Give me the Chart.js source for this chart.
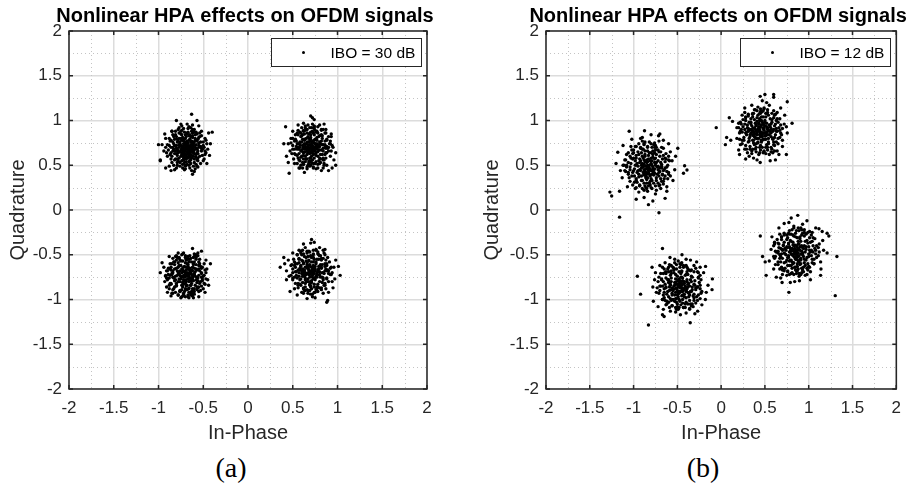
<!DOCTYPE html>
<html>
<head>
<meta charset="utf-8">
<script src="https://cdn.jsdelivr.net/npm/chart.js@4.4.1/dist/chart.umd.min.js"></script>
<style>
body { margin: 0; background: #fff; width: 911px; height: 488px; position: relative; overflow: hidden; }
canvas { position: absolute; top: 0; }
.cap { position: absolute; top: 454px; font: 28px/28px "Liberation Serif", "Times New Roman", serif; color: #000; transform: translateX(-50%); }
</style>
</head>
<body>
<canvas id="plotA" width="455" height="450" style="left:0"></canvas>
<canvas id="plotB" width="455" height="450" style="left:455px"></canvas>
<div class="cap" style="left:231px">(a)</div>
<div class="cap" style="left:703px">(b)</div>
<script>
// axis ticks
var tickLabels = ['-2', '-1.5', '-1', '-0.5', '0', '0.5', '1', '1.5', '2'];
var minorGrid = [-1.75, -1.25, -0.75, -0.25, 0.25, 0.75, 1.25, 1.75];
var plotTitle = 'Nonlinear HPA effects on OFDM signals';

// (a) IBO = 30 dB
var tl30 = [[-.68,.68],[-.65,.70],[-.71,.66],[-.70,.72],[-.64,.65],[-.74,.69],[-.67,.75],[-.62,.71],[-.73,.63],[-.69,.61],[-.60,.67],[-.76,.74],[-.66,.62],[-.63,.77],[-.72,.77],[-.78,.66],[-.58,.73],[-.75,.60],[-.61,.60],[-.70,.80],
  [-.80,.72],[-.57,.64],[-.66,.83],[-.79,.61],[-.55,.70],[-.64,.56],[-.74,.55],[-.83,.68],[-.59,.80],[-.77,.80],[-.53,.76],[-.69,.54],[-.84,.76],[-.56,.58],[-.62,.86],[-.81,.57],[-.75,.85],[-.52,.66],[-.60,.53],[-.86,.64],[-.71,.87],[-.58,.87],[-.79,.50],[-.50,.72],[-.66,.50],[-.88,.72],[-.54,.82],[-.83,.82],[-.73,.51],
  [-.90,.60],[-.48,.62],[-.67,.91],[-.92,.80],[-.47,.78],[-.85,.53],[-.57,.49],[-.78,.90],[-.94,.66],[-.50,.55],[-.62,.95],[-.88,.49],[-.45,.68],[-.70,.46],[-.96,.73],[-.52,.88],[-.82,.45],[-.42,.74],[-.63,.44],[-.98,.56],[-.43,.61],[-.75,.96],[-.92,.47],[-.55,.94],[-.85,.88],[-.46,.52],[-.60,.43],[-.80,1.00],[-.63,1.07],[-.40,.87],[-.44,.86],[-1.0,.73],[-.98,.55],[-.62,.40],[-.86,.44],[-.68,.96],[-.57,1.00],[-.93,.85],[-.48,.66],
  [-.66,.66],[-.72,.70],[-.69,.74],[-.63,.68],[-.67,.58],[-.77,.70],[-.60,.76],[-.74,.78],[-.65,.79],[-.71,.59],[-.79,.76],[-.57,.68],[-.82,.63],[-.61,.64]];
var tl30core = [[-.67,.69],[-.69,.71],[-.66,.64],[-.73,.67],[-.64,.73],[-.70,.63],[-.62,.69],[-.75,.72],[-.68,.77],[-.71,.62],[-.65,.67],[-.78,.64],[-.59,.70],[-.72,.74],[-.66,.71],[-.63,.61],[-.76,.76],[-.69,.57],[-.61,.74],[-.80,.69],[-.56,.66],[-.73,.81],[-.64,.82],[-.77,.58],[-.58,.62],[-.70,.84],[-.82,.72],[-.60,.57],[-.68,.65],[-.74,.64],
  [-.63,.66],[-.71,.68],[-.67,.72],[-.65,.59],[-.79,.79],[-.55,.75],[-.76,.53],[-.62,.81],[-.84,.66],[-.57,.56],[-.72,.57],[-.81,.84],[-.59,.84],[-.86,.70],[-.54,.60],[-.67,.87],[-.78,.55],[-.53,.71],[-.64,.52],[-.74,.89],[-.85,.60],[-.60,.90],[-.70,.50],[-.82,.79],[-.56,.79],[-.66,.54],[-.87,.77],[-.77,.86],[-.51,.68],[-.63,.88]];
var tl30inner = [[-.68,.70],[-.66,.68],[-.70,.66],[-.69,.69],[-.65,.71],[-.71,.73],[-.67,.63],[-.73,.71],[-.63,.70],[-.72,.65],[-.64,.62],[-.75,.67],[-.61,.66],[-.69,.76],[-.66,.78],[-.74,.62],[-.62,.75],[-.77,.73],[-.60,.63],[-.71,.79],[-.68,.59],[-.79,.68],[-.58,.69],[-.65,.84],[-.75,.80],
  [-.63,.58],[-.80,.63],[-.57,.77],[-.72,.56],[-.69,.82],[-.67,.66],[-.70,.75],[-.64,.76],[-.73,.60],[-.61,.72],[-.76,.65],[-.66,.60],[-.78,.77],[-.59,.78],[-.71,.53],[-.62,.83],[-.81,.66],[-.56,.63],[-.74,.84],[-.65,.55],[-.83,.74],[-.55,.72],[-.68,.85],[-.79,.57],[-.58,.59]];
var tl30ring = [[-.84,.70],[-.52,.69],[-.68,.86],[-.68,.51],[-.80,.82],[-.56,.55],[-.82,.56],[-.55,.81],[-.75,.88],[-.61,.49],[-.87,.62],[-.50,.76],[-.60,.87],[-.76,.49],[-.86,.78],[-.51,.61],[-.72,.91],[-.65,.47],[-.89,.67],[-.49,.70],[-.79,.53],[-.57,.85],[-.84,.84],[-.53,.52],[-.64,.92],
  [-.73,.47],[-.90,.73],[-.47,.64],[-.58,.51],[-.81,.88],[-.70,.49],[-.86,.57],[-.54,.86],[-.62,.90],[-.88,.80],[-.49,.57],[-.77,.92],[-.59,.46],[-.91,.64],[-.46,.74],[-.83,.50],[-.66,.93],[-.52,.83],[-.71,.45],[-.85,.88],[-.48,.80],[-.92,.70],[-.56,.48],[-.74,.94],[-.80,.47]];
var tr30 = [[.70,.70],[.67,.73],[.73,.68],[.69,.65],[.75,.74],[.64,.68],[.72,.77],[.66,.62],[.78,.70],[.61,.72],[.71,.60],[.76,.64],[.63,.78],[.80,.76],[.68,.80],[.74,.58],[.59,.66],[.82,.67],[.65,.57],[.77,.81],
  [.57,.74],[.84,.73],[.70,.84],[.60,.60],[.80,.58],[.55,.68],[.86,.62],[.63,.85],[.76,.87],[.68,.54],[.53,.79],[.88,.78],[.58,.55],[.82,.84],[.73,.52],[.52,.63],[.62,.51],[.89,.69],[.66,.90],[.80,.52],[.55,.86],[.85,.56],[.50,.72],[.74,.91],[.59,.82],[.91,.74],[.70,.50],[.56,.58],
  [.48,.80],[.92,.60],[.60,.92],[.84,.90],[.47,.66],[.93,.82],[.52,.52],[.88,.50],[.45,.74],[.78,.47],[.66,.46],[.95,.70],[.50,.88],[.70,1.05],[.72,1.03],[.74,1.01],[.42,.93],[.85,.96],[.93,.85],[.98,.64],[.98,.50],[.94,.47],[.46,.41],[.63,.42],[.58,.47],[.40,.74],[.43,.60],[.80,.95],[.56,.95],[.96,.56],[.45,.53],[.62,.97],[.90,.44],[.82,.44],
  [.72,.72],[.68,.67],[.66,.76],[.75,.66],[.62,.64],[.79,.73],[.71,.64],[.64,.71],[.77,.78],[.69,.58],[.58,.70],[.83,.62],[.74,.84],[.61,.79]];
var tr30core = [[.71,.71],[.69,.73],[.74,.70],[.66,.69],[.72,.66],[.68,.76],[.76,.72],[.63,.74],[.73,.63],[.67,.64],[.79,.67],[.65,.80],[.75,.79],[.61,.68],[.70,.58],[.81,.74],[.62,.61],[.78,.60],[.66,.86],[.84,.69],[.58,.76],[.73,.86],[.69,.55],[.86,.77],[.57,.63],[.80,.83],[.64,.54],[.87,.64],[.60,.83],[.76,.54],
  [.71,.67],[.67,.70],[.74,.75],[.64,.65],[.77,.68],[.70,.79],[.62,.71],[.81,.62],[.59,.59],[.83,.80],[.56,.70],[.75,.89],[.67,.50],[.88,.71],[.54,.77],[.79,.55],[.62,.88],[.90,.66],[.55,.61],[.71,.92],[.84,.58],[.58,.87],[.73,.48],[.87,.86],[.52,.68],[.61,.53],[.82,.90],[.92,.77],[.64,.94],[.85,.52]];
var tr30inner = [[.70,.72],[.72,.70],[.68,.68],[.71,.75],[.73,.66],[.67,.71],[.75,.69],[.69,.63],[.65,.74],[.77,.74],[.66,.66],[.74,.78],[.62,.70],[.78,.65],[.70,.81],[.64,.60],[.80,.71],[.63,.79],[.76,.61],[.68,.85],[.60,.66],[.82,.77],[.72,.56],[.58,.73],[.79,.82],
  [.66,.57],[.84,.66],[.61,.84],[.75,.52],[.86,.73],[.71,.69],[.69,.77],[.73,.62],[.65,.69],[.77,.71],[.67,.82],[.63,.65],[.80,.67],[.72,.88],[.60,.76],[.83,.73],[.68,.52],[.57,.68],[.78,.86],[.62,.57],[.87,.69],[.64,.89],[.81,.57],[.55,.74],[.74,.93]];
var tr30ring = [[.86,.70],[.54,.71],[.70,.87],[.71,.53],[.83,.83],[.57,.56],[.84,.56],[.56,.84],[.77,.88],[.62,.51],[.88,.64],[.52,.77],[.62,.89],[.78,.51],[.88,.79],[.53,.62],[.69,.92],[.66,.48],[.90,.70],[.50,.68],[.81,.53],[.59,.86],[.86,.86],[.55,.52],[.74,.94],
  [.73,.47],[.92,.74],[.49,.63],[.59,.50],[.82,.89],[.69,.49],[.87,.58],[.56,.89],[.64,.92],[.90,.82],[.51,.57],[.78,.93],[.61,.47],[.93,.66],[.48,.75],[.85,.50],[.67,.95],[.53,.84],[.76,.46],[.87,.90],[.50,.80],[.94,.72],[.57,.47],[.72,.96],[.84,.47]];
var bl30 = [[-.68,-.72],[-.65,-.70],[-.71,-.75],[-.69,-.67],[-.63,-.76],[-.74,-.70],[-.66,-.80],[-.72,-.64],[-.60,-.71],[-.77,-.77],[-.70,-.82],[-.62,-.64],[-.79,-.68],[-.58,-.78],[-.75,-.62],[-.64,-.84],[-.81,-.74],[-.57,-.67],[-.68,-.60],[-.73,-.86],
  [-.84,-.70],[-.55,-.73],[-.69,-.89],[-.60,-.58],[-.80,-.82],[-.53,-.80],[-.76,-.56],[-.86,-.64],[-.63,-.91],[-.52,-.65],[-.83,-.88],[-.65,-.55],[-.88,-.76],[-.56,-.87],[-.72,-.93],[-.50,-.74],[-.82,-.58],[-.58,-.55],[-.90,-.68],[-.76,-.90],[-.54,-.60],[-.87,-.82],[-.70,-.53],[-.60,-.94],[-.49,-.82],[-.85,-.60],[-.78,-.95],[-.67,-.52],
  [-.47,-.70],[-.92,-.73],[-.62,-.43],[-.78,-.48],[-.88,-.52],[-.96,-.59],[-.90,-.92],[-.98,-.70],[-.48,-.92],[-.42,-.60],[-.52,-.46],[-.55,-.97],[-.66,-.98],[-.45,-.78],[-.93,-.80],[-.73,-.49],[-.58,-.50],[-.84,-.93],[-.46,-.66],[-.70,-.97],[-.94,-.64],[-.50,-.88],[-.81,-.52],[-.44,-.84],[-.61,-.98],[-.91,-.86],[-.86,-.96],[-.56,-.48],[-.75,-.98],[-.47,-.56],
  [-.66,-.74],[-.70,-.70],[-.67,-.66],[-.72,-.78],[-.62,-.68],[-.76,-.73],[-.64,-.79],[-.74,-.66],[-.59,-.74],[-.69,-.85],[-.78,-.80],[-.61,-.61],[-.82,-.66],[-.66,-.88]];
var bl30core = [[-.67,-.71],[-.70,-.74],[-.65,-.76],[-.72,-.69],[-.63,-.72],[-.69,-.78],[-.74,-.75],[-.66,-.66],[-.61,-.79],[-.76,-.68],[-.71,-.63],[-.64,-.84],[-.79,-.73],[-.59,-.69],[-.73,-.81],[-.67,-.61],[-.81,-.78],[-.57,-.75],[-.77,-.62],[-.62,-.88],[-.84,-.68],[-.55,-.66],[-.70,-.88],[-.63,-.58],[-.80,-.85],[-.54,-.82],[-.75,-.57],[-.87,-.73],[-.66,-.92],[-.58,-.61],
  [-.68,-.70],[-.72,-.73],[-.65,-.68],[-.71,-.79],[-.62,-.75],[-.77,-.71],[-.60,-.65],[-.74,-.84],[-.69,-.64],[-.83,-.76],[-.56,-.79],[-.78,-.59],[-.61,-.91],[-.86,-.83],[-.52,-.70],[-.69,-.56],[-.76,-.91],[-.57,-.86],[-.89,-.65],[-.64,-.54],[-.82,-.61],[-.51,-.77],[-.72,-.96],[-.60,-.52],[-.88,-.88],[-.53,-.63],[-.79,-.53],[-.67,-.95],[-.91,-.76],[-.55,-.91]];
var bl30inner = [[-.68,-.74],[-.66,-.72],[-.70,-.70],[-.67,-.77],[-.71,-.73],[-.64,-.70],[-.69,-.80],[-.73,-.67],[-.65,-.65],[-.62,-.77],[-.75,-.74],[-.67,-.63],[-.72,-.83],[-.60,-.72],[-.78,-.70],[-.63,-.82],[-.70,-.59],[-.76,-.80],[-.58,-.66],[-.66,-.87],[-.80,-.65],[-.61,-.60],[-.74,-.89],[-.56,-.76],[-.82,-.79],
  [-.69,-.55],[-.59,-.84],[-.85,-.71],[-.64,-.93],[-.54,-.68],[-.69,-.73],[-.65,-.79],[-.72,-.68],[-.63,-.67],[-.75,-.77],[-.68,-.84],[-.61,-.73],[-.78,-.64],[-.66,-.58],[-.57,-.81],[-.80,-.84],[-.73,-.57],[-.60,-.88],[-.84,-.75],[-.55,-.62],[-.71,-.91],[-.86,-.67],[-.52,-.75],[-.77,-.54],[-.62,-.96]];
var bl30ring = [[-.85,-.72],[-.52,-.71],[-.68,-.89],[-.67,-.55],[-.82,-.86],[-.55,-.58],[-.83,-.58],[-.55,-.86],[-.76,-.91],[-.61,-.53],[-.87,-.66],[-.51,-.79],[-.60,-.91],[-.77,-.53],[-.86,-.82],[-.51,-.64],[-.72,-.94],[-.65,-.51],[-.89,-.72],[-.49,-.73],[-.80,-.56],[-.57,-.89],[-.84,-.89],[-.54,-.55],[-.64,-.95],
  [-.74,-.50],[-.90,-.78],[-.48,-.67],[-.58,-.53],[-.81,-.92],[-.70,-.51],[-.87,-.60],[-.53,-.90],[-.62,-.94],[-.88,-.84],[-.49,-.60],[-.78,-.95],[-.60,-.49],[-.91,-.68],[-.47,-.77],[-.84,-.54],[-.67,-.97],[-.52,-.85],[-.72,-.48],[-.85,-.93],[-.48,-.83],[-.92,-.74],[-.56,-.51],[-.74,-.97],[-.80,-.51]];
var br30 = [[.70,-.68],[.67,-.65],[.73,-.71],[.69,-.62],[.75,-.66],[.64,-.70],[.72,-.75],[.66,-.59],[.78,-.69],[.61,-.66],[.71,-.79],[.76,-.60],[.63,-.74],[.80,-.73],[.68,-.56],[.74,-.83],[.59,-.62],[.82,-.64],[.65,-.80],[.77,-.55],
  [.57,-.70],[.84,-.70],[.70,-.86],[.60,-.56],[.80,-.80],[.55,-.76],[.86,-.60],[.63,-.52],[.76,-.89],[.67,-.90],[.53,-.64],[.88,-.76],[.58,-.83],[.82,-.54],[.73,-.49],[.52,-.58],[.62,-.88],[.89,-.67],[.66,-.48],[.80,-.87],[.55,-.50],[.85,-.84],[.50,-.70],[.78,-.47],[.60,-.92],[.91,-.58],[.70,-.94],[.48,-.62],
  [.46,-.74],[.93,-.72],[.59,-.46],[.86,-.50],[.45,-.56],[.94,-.80],[.52,-.88],[.84,-.93],[.43,-.68],[.64,-.42],[.96,-.64],[.55,-.95],[.71,-.33],[.70,-.37],[.74,-.36],[.36,-.64],[.40,-.53],[.43,-.78],[1.03,-.73],[1.01,-.63],[.88,-1.03],[.89,-1.01],[.75,-.98],[.90,-.92],[.47,-.91],[.80,-.42],[.98,-.56],[.50,-.48],[.66,-.99],[.95,-.87],[.62,-.38],[.41,-.60],[.97,-.77],[.86,-.44],
  [.72,-.66],[.68,-.72],[.66,-.63],[.75,-.76],[.62,-.69],[.79,-.63],[.71,-.58],[.64,-.78],[.77,-.72],[.69,-.83],[.58,-.67],[.83,-.75],[.73,-.53],[.61,-.57]];
var br30core = [[.71,-.69],[.68,-.67],[.74,-.65],[.66,-.71],[.72,-.73],[.69,-.61],[.77,-.70],[.64,-.64],[.75,-.78],[.62,-.72],[.79,-.66],[.67,-.77],[.73,-.58],[.60,-.68],[.81,-.75],[.65,-.57],[.78,-.83],[.58,-.65],[.83,-.61],[.69,-.84],[.62,-.60],[.85,-.71],[.71,-.53],[.57,-.74],[.77,-.88],[.61,-.81],[.87,-.66],[.67,-.52],[.82,-.56],[.55,-.60],
  [.70,-.71],[.73,-.68],[.68,-.63],[.76,-.74],[.63,-.67],[.80,-.69],[.66,-.80],[.74,-.55],[.59,-.77],[.84,-.78],[.71,-.88],[.57,-.55],[.88,-.60],[.64,-.86],[.79,-.50],[.53,-.69],[.90,-.71],[.75,-.92],[.60,-.50],[.86,-.82],[.52,-.62],[.68,-.46],[.82,-.89],[.56,-.84],[.92,-.65],[.76,-.45],[.62,-.93],[.89,-.53],[.50,-.76],[.72,-.97]];
var br30inner = [[.70,-.70],[.72,-.67],[.68,-.69],[.71,-.64],[.74,-.71],[.67,-.66],[.69,-.75],[.75,-.63],[.65,-.72],[.73,-.77],[.66,-.61],[.78,-.67],[.63,-.68],[.71,-.81],[.76,-.58],[.61,-.74],[.80,-.72],[.68,-.57],[.64,-.82],[.82,-.65],[.59,-.63],[.74,-.86],[.70,-.52],[.84,-.76],[.58,-.78],
  [.79,-.55],[.66,-.89],[.86,-.63],[.56,-.67],[.73,-.50],[.71,-.69],[.69,-.72],[.73,-.62],[.66,-.64],[.77,-.75],[.64,-.76],[.75,-.68],[.68,-.80],[.62,-.59],[.81,-.61],[.70,-.85],[.60,-.71],[.83,-.70],[.65,-.53],[.78,-.86],[.57,-.59],[.88,-.68],[.63,-.90],[.80,-.51],[.54,-.73]];
var br30ring = [[.86,-.68],[.54,-.69],[.70,-.85],[.70,-.51],[.83,-.81],[.57,-.54],[.84,-.54],[.56,-.82],[.77,-.86],[.62,-.49],[.88,-.62],[.52,-.75],[.62,-.87],[.78,-.49],[.88,-.77],[.53,-.60],[.69,-.90],[.66,-.46],[.90,-.68],[.50,-.66],[.81,-.51],[.59,-.84],[.86,-.84],[.55,-.50],[.74,-.92],
  [.73,-.45],[.92,-.72],[.49,-.61],[.59,-.48],[.82,-.87],[.69,-.47],[.87,-.56],[.56,-.87],[.64,-.90],[.90,-.80],[.51,-.55],[.78,-.91],[.61,-.45],[.93,-.64],[.48,-.73],[.85,-.48],[.67,-.93],[.53,-.82],[.76,-.44],[.87,-.88],[.50,-.78],[.94,-.70],[.57,-.45],[.72,-.94],[.84,-.45]];

// (b) IBO = 12 dB, rotated and spread
var tl12 = [[-.84,.48],[-.80,.51],[-.88,.45],[-.83,.42],[-.78,.46],[-.90,.52],[-.85,.56],[-.76,.53],[-.92,.44],[-.81,.38],[-.73,.48],[-.95,.49],[-.87,.60],[-.78,.59],[-.86,.36],[-.71,.42],[-.98,.55],[-.74,.36],[-.91,.38],[-.82,.64],
  [-1.00,.44],[-.68,.51],[-.94,.62],[-.70,.60],[-.88,.30],[-.77,.30],[-1.03,.52],[-.66,.44],[-.90,.68],[-.75,.67],[-.97,.35],[-.65,.35],[-1.06,.40],[-.84,.71],[-.70,.28],[-1.01,.63],[-.62,.48],[-.80,.25],[-.93,.27],[-1.08,.48],[-.63,.57],[-.97,.71],[-.68,.70],[-1.04,.32],[-.60,.40],[-.87,.76],[-.76,.75],[-.85,.24],[-1.10,.56],
  [-1.05,.88],[-.875,.886],[-.715,.83],[-.495,.69],[-.417,.495],[-.39,.447],[-.43,.41],[-1.27,.20],[-1.25,.156],[-1.16,.21],[-1.16,-.08],[-.71,-.03],[-.83,.06],[-1.18,.645],[-.62,.21],[-.62,.26],[-.58,.65],[-1.12,.72],[-.55,.33],[-1.13,.36],[-.92,.80],[-.66,.78],[-.75,.18],[-.94,.20],[-1.07,.26],[-.56,.55],[-.80,.84],[-1.15,.44],[-.53,.45],[-.88,.14],[-.64,.13],[-1.02,.79],[-.70,.85],[-.97,.12],[-.60,.74],[-.78,.10],[-.52,.60],[-1.20,.52],
  [-.82,.50],[-.86,.42],[-.80,.44],[-.89,.49],[-.79,.55],[-.84,.54],[-.76,.41],[-.93,.57],[-.72,.55],[-.88,.39],[-.96,.42],[-.81,.32],[-.70,.47],[-1.00,.58],[-.74,.62],[-.91,.64],[-.67,.39],[-.99,.38],[-.78,.66],[-.85,.30]];
var tl12core = [[-.83,.49],[-.86,.46],[-.81,.45],[-.88,.51],[-.79,.50],[-.85,.40],[-.91,.47],[-.77,.44],[-.83,.57],[-.89,.42],[-.75,.50],[-.93,.53],[-.80,.35],[-.87,.62],[-.72,.45],[-.95,.44],[-.78,.62],[-.90,.33],[-.69,.53],[-.98,.50],[-.84,.66],[-.74,.33],[-1.01,.57],[-.67,.40],[-.92,.70],[-.81,.28],[-.71,.65],[-1.04,.45],[-.96,.31],[-.64,.54],
  [-.82,.45],[-.87,.54],[-.79,.40],[-.94,.40],[-.76,.57],[-.89,.58],[-.73,.40],[-.97,.61],[-.85,.34],[-.68,.47],[-1.02,.38],[-.79,.70],[-.93,.28],[-.66,.61],[-1.06,.53],[-.88,.74],[-.72,.30],[-1.00,.67],[-.62,.43],[-.84,.21],[-1.09,.43],[-.75,.72],[-.98,.24],[-.60,.56],[-.90,.81],[-1.08,.62],[-.66,.32],[-.71,.77],[-1.12,.50],[-.58,.38]];
var tl12inner = [[-.84,.50],[-.82,.47],[-.86,.49],[-.83,.44],[-.87,.43],[-.80,.52],[-.85,.53],[-.89,.48],[-.78,.48],[-.82,.40],[-.88,.56],[-.76,.46],[-.91,.50],[-.80,.58],[-.86,.38],[-.74,.53],[-.93,.45],[-.83,.61],[-.77,.39],[-.90,.60],[-.72,.49],[-.96,.52],[-.79,.33],[-.87,.66],[-.70,.43],
  [-.94,.37],[-.76,.64],[-.99,.46],[-.82,.30],[-.67,.57],[-.85,.46],[-.81,.55],[-.88,.40],[-.78,.43],[-.92,.55],[-.75,.58],[-.84,.36],[-.97,.58],[-.71,.38],[-.89,.68],[-.80,.64],[-1.01,.42],[-.68,.49],[-.91,.33],[-.74,.70],[-1.03,.58],[-.65,.45],[-.87,.27],[-.95,.65],[-.69,.35]];
var tl12ring = [[-1.04,.48],[-.64,.47],[-.84,.70],[-.83,.27],[-1.00,.64],[-.68,.32],[-.99,.31],[-.69,.65],[-.92,.69],[-.75,.27],[-1.06,.42],[-.64,.58],[-.76,.70],[-.93,.27],[-1.04,.60],[-.64,.38],[-.88,.73],[-.79,.24],[-1.08,.50],[-.61,.50],[-.97,.33],[-.72,.67],[-1.02,.67],[-.66,.29],[-.80,.74],
  [-.90,.24],[-1.09,.56],[-.60,.42],[-.71,.27],[-.98,.71],[-.86,.25],[-1.05,.36],[-.66,.69],[-.77,.73],[-1.06,.64],[-.61,.35],[-.94,.74],[-.74,.22],[-1.10,.44],[-.59,.55],[-1.01,.28],[-.82,.76],[-.63,.63],[-.88,.22],[-1.03,.71],[-.60,.60],[-1.11,.50],[-.69,.24],[-.90,.77],[-.97,.25]];
var tr12 = [[.44,.88],[.48,.91],[.40,.85],[.45,.82],[.50,.86],[.38,.92],[.43,.96],[.52,.93],[.36,.84],[.47,.78],[.55,.88],[.33,.90],[.41,.99],[.50,1.00],[.42,.76],[.57,.82],[.30,.95],[.54,.76],[.37,.78],[.46,1.04],
  [.28,.86],[.60,.90],[.34,1.02],[.58,.98],[.40,.70],[.51,.70],[.25,.93],[.62,.84],[.37,1.08],[.54,1.06],[.31,.76],[.63,.76],[.26,.81],[.45,1.10],[.58,.68],[.28,1.00],[.66,.92],[.48,.64],[.35,.66],[.22,.88],[.64,1.02],[.31,1.07],[.60,1.11],[.24,.74],[.68,.86],[.42,1.15],[.55,.62],[.29,.68],[.20,.97],
  [-.056,.92],[.093,1.03],[.13,.99],[.063,.81],[.048,.73],[.11,.78],[.50,1.29],[.60,1.29],[.60,1.26],[.446,1.27],[.755,1.21],[.726,1.06],[.81,.97],[.745,.93],[.755,.86],[.70,.71],[.745,.62],[.446,.53],[.28,.57],[.20,.67],[.21,.62],[.66,.62],[.37,.58],[.52,1.20],[.35,1.17],[.70,.78],[.24,1.06],[.62,.56],[.18,.80],[.68,1.14],[.41,.56],[.56,.55],[.32,.60],[.27,1.14],[.72,.96],[.18,.92],[.64,.66],[.55,1.17],[.47,1.22],
  [.42,.90],[.46,.85],[.39,.81],[.49,.95],[.43,.80],[.53,.84],[.36,.88],[.47,.98],[.40,.94],[.56,.93],[.33,.82],[.51,.79],[.44,1.02],[.59,.79],[.32,.98],[.38,.73],[.62,.96],[.45,.72],[.27,.90],[.51,1.04]];
var tr12core = [[.45,.87],[.42,.90],[.47,.84],[.40,.88],[.49,.89],[.43,.93],[.38,.85],[.51,.83],[.46,.95],[.36,.91],[.53,.90],[.41,.80],[.48,.79],[.34,.86],[.55,.95],[.39,.97],[.50,.98],[.32,.80],[.57,.86],[.44,1.00],[.37,.75],[.59,.80],[.30,.92],[.52,.73],[.42,1.06],[.61,.94],[.29,.84],[.47,.70],[.56,1.02],[.34,.96],
  [.44,.84],[.48,.92],[.41,.86],[.52,.87],[.38,.82],[.46,.78],[.54,.80],[.35,.89],[.50,.94],[.40,.74],[.57,.91],[.31,.88],[.45,1.08],[.60,.73],[.27,.96],[.53,1.09],[.36,1.04],[.63,.88],[.26,.78],[.49,.66],[.39,1.12],[.65,.98],[.23,.90],[.57,.65],[.33,.71],[.61,1.06],[.28,1.03],[.43,.62],[.67,.81],[.49,1.13]];
var tr12inner = [[.44,.90],[.46,.87],[.42,.88],[.45,.93],[.47,.82],[.41,.84],[.49,.91],[.43,.97],[.39,.90],[.51,.86],[.48,.96],[.37,.87],[.53,.92],[.40,.80],[.46,1.00],[.50,.79],[.35,.94],[.55,.84],[.42,.75],[.48,1.04],[.33,.84],[.57,.96],[.38,1.01],[.54,.74],[.44,.70],
  [.59,.88],[.31,.91],[.51,1.08],[.36,.78],[.61,.81],[.45,.85],[.43,.92],[.48,.86],[.40,.95],[.50,.83],[.37,.83],[.52,.97],[.46,.76],[.41,1.03],[.56,.89],[.34,.98],[.53,.70],[.58,1.01],[.32,.77],[.63,.91],[.47,1.10],[.39,.68],[.29,.87],[.60,.76],[.36,1.07]];
var tr12ring = [[.64,.88],[.24,.87],[.44,1.08],[.45,.67],[.60,1.03],[.28,.72],[.61,.72],[.28,1.04],[.52,1.08],[.36,.68],[.65,.80],[.23,.96],[.36,1.08],[.53,.67],[.63,1.00],[.24,.78],[.41,1.11],[.49,.65],[.67,.89],[.21,.86],[.57,.70],[.31,1.05],[.62,1.07],[.27,.68],[.48,1.11],
  [.40,.65],[.68,.95],[.21,.79],[.33,.68],[.58,1.08],[.44,.64],[.65,.74],[.27,1.09],[.38,1.12],[.67,1.02],[.22,.73],[.53,1.12],[.35,.63],[.69,.84],[.20,.92],[.61,.66],[.45,1.13],[.25,1.01],[.51,.63],[.64,1.09],[.22,.98],[.70,.91],[.30,.64],[.49,1.14],[.59,.64]];
var br12 = [[.85,-.47],[.89,-.44],[.81,-.50],[.86,-.53],[.91,-.49],[.79,-.43],[.84,-.39],[.93,-.42],[.77,-.51],[.88,-.57],[.96,-.47],[.74,-.45],[.82,-.36],[.91,-.35],[.83,-.59],[.98,-.53],[.71,-.40],[.95,-.59],[.78,-.57],[.87,-.31],
  [.69,-.49],[1.01,-.45],[.75,-.33],[.99,-.37],[.81,-.65],[.92,-.65],[.66,-.42],[1.03,-.51],[.78,-.27],[.95,-.29],[.72,-.59],[1.04,-.59],[.67,-.54],[.86,-.23],[.99,-.67],[.69,-.33],[1.07,-.43],[.89,-.71],[.76,-.69],[.63,-.47],[1.05,-.31],[.72,-.26],[1.01,-.24],[.65,-.61],[1.09,-.53],[.83,-.18],[.96,-.73],[.70,-.67],[.61,-.38],
  [.875,-.06],[.80,-.09],[.774,-.14],[.447,-.29],[1.117,-.21],[1.154,-.24],[1.21,-.26],[1.23,-.29],[1.322,-.52],[1.303,-.957],[.774,-.92],[.696,-.81],[.79,-.81],[.894,-.79],[.473,-.52],[.503,-.58],[.514,-.73],[1.136,-.73],[1.136,-.58],[1.21,-.48],[.58,-.30],[1.12,-.38],[.60,-.66],[.93,-.16],[1.14,-.66],[.57,-.44],[.66,-.20],[1.02,-.78],[.63,-.75],[1.17,-.45],[.72,-.15],[.55,-.57],[1.08,-.20],[.84,-.80],[1.16,-.34],[.60,-.52],[.98,-.12],[.68,-.76],
  [.83,-.49],[.87,-.42],[.86,-.50],[.80,-.46],[.90,-.55],[.84,-.44],[.93,-.50],[.77,-.38],[.88,-.38],[.80,-.56],[.95,-.40],[.74,-.50],[.90,-.61],[.83,-.29],[.97,-.56],[.70,-.45],[.85,-.64],[1.00,-.41],[.76,-.62],[.92,-.28]];
var br12core = [[.84,-.48],[.87,-.45],[.82,-.44],[.89,-.51],[.80,-.49],[.86,-.40],[.92,-.46],[.78,-.47],[.85,-.55],[.90,-.41],[.76,-.42],[.94,-.52],[.81,-.58],[.88,-.35],[.73,-.49],[.97,-.44],[.79,-.34],[.91,-.60],[.70,-.44],[1.00,-.49],[.84,-.64],[.75,-.56],[.98,-.34],[.68,-.52],[.93,-.67],[.80,-.27],[.72,-.36],[1.04,-.55],[.96,-.62],[.65,-.46],
  [.85,-.45],[.83,-.52],[.88,-.48],[.78,-.41],[.91,-.54],[.82,-.39],[.94,-.43],[.76,-.53],[.87,-.60],[.73,-.43],[1.02,-.47],[.80,-.62],[.90,-.30],[.68,-.58],[1.05,-.40],[.87,-.68],[.75,-.28],[1.01,-.64],[.66,-.38],[.92,-.22],[1.08,-.49],[.71,-.66],[.97,-.27],[.62,-.52],[.83,-.72],[1.06,-.60],[.69,-.30],[.78,-.72],[1.11,-.42],[.88,-.20]];
var br12inner = [[.85,-.49],[.83,-.46],[.87,-.48],[.84,-.43],[.88,-.52],[.81,-.50],[.86,-.55],[.90,-.45],[.79,-.46],[.83,-.40],[.91,-.56],[.77,-.53],[.89,-.38],[.82,-.60],[.93,-.48],[.75,-.41],[.87,-.63],[.80,-.35],[.95,-.55],[.72,-.48],[.90,-.32],[.78,-.62],[.97,-.41],[.85,-.67],[.70,-.54],
  [.94,-.64],[.76,-.31],[1.00,-.52],[.82,-.28],[.68,-.43],[.86,-.46],[.84,-.53],[.81,-.43],[.89,-.58],[.79,-.56],[.92,-.40],[.77,-.37],[.88,-.66],[.74,-.58],[.96,-.35],[.85,-.30],[.99,-.60],[.71,-.39],[.92,-.70],[.81,-.70],[1.03,-.45],[.67,-.50],[.95,-.25],[.73,-.65],[1.02,-.36]];
var br12ring = [[1.05,-.47],[.65,-.48],[.85,-.26],[.86,-.68],[1.01,-.31],[.69,-.64],[1.00,-.63],[.69,-.30],[.93,-.26],[.76,-.68],[1.06,-.55],[.65,-.37],[.77,-.26],[.94,-.69],[1.04,-.35],[.65,-.58],[.89,-.23],[.80,-.71],[1.08,-.45],[.62,-.46],[.98,-.65],[.72,-.28],[1.03,-.28],[.67,-.66],[.81,-.22],
  [.91,-.72],[1.09,-.40],[.61,-.54],[.72,-.68],[.99,-.25],[.86,-.71],[1.06,-.60],[.67,-.27],[.78,-.23],[1.07,-.32],[.62,-.61],[.95,-.22],[.75,-.73],[1.11,-.51],[.60,-.40],[1.02,-.69],[.83,-.20],[.64,-.33],[.89,-.74],[1.04,-.25],[.61,-.36],[1.12,-.47],[.70,-.72],[.91,-.20],[.98,-.72]];
var bl12 = [[-.47,-.85],[-.43,-.82],[-.51,-.88],[-.46,-.91],[-.41,-.87],[-.53,-.81],[-.48,-.77],[-.39,-.80],[-.55,-.89],[-.44,-.95],[-.36,-.85],[-.58,-.83],[-.50,-.74],[-.41,-.73],[-.49,-.97],[-.34,-.91],[-.61,-.78],[-.37,-.97],[-.56,-.95],[-.45,-.69],
  [-.63,-.87],[-.31,-.83],[-.57,-.71],[-.33,-.75],[-.51,-1.03],[-.40,-1.03],[-.66,-.80],[-.29,-.89],[-.54,-.65],[-.37,-.67],[-.60,-.97],[-.28,-.97],[-.65,-.92],[-.46,-.61],[-.33,-1.05],[-.63,-.71],[-.25,-.81],[-.43,-1.09],[-.56,-1.07],[-.69,-.85],[-.27,-.69],[-.60,-.64],[-.31,-.62],[-.67,-1.00],[-.23,-.93],[-.49,-.57],[-.36,-1.11],[-.62,-1.05],[-.71,-.75],
  [-.67,-.43],[-.447,-.50],[-.584,-.53],[-.957,-.74],[-.92,-.94],[-.83,-1.285],[-.353,-1.26],[-.651,-1.19],[-.67,-1.17],[-.10,-.77],[-.104,-.89],[-.178,-.63],[-.789,-.64],[-.774,-1.02],[-.268,-1.13],[-.465,-1.17],[-.74,-.92],[-.20,-.70],[-.40,-.55],[-.72,-1.08],[-.18,-1.00],[-.52,-1.14],[-.76,-.78],[-.28,-.58],[-.22,-1.06],[-.64,-.59],[-.15,-.84],[-.58,-1.13],[-.30,-1.16],[-.75,-.70],[-.53,-.55],[-.17,-.92],[-.70,-.62],[-.40,-1.15],[-.24,-.64],[-.78,-.86],[-.35,-.56],[-.66,-1.11],
  [-.45,-.87],[-.49,-.83],[-.44,-.79],[-.52,-.92],[-.40,-.90],[-.48,-.80],[-.54,-.85],[-.42,-.94],[-.38,-.83],[-.57,-.76],[-.35,-.78],[-.52,-.99],[-.44,-1.00],[-.59,-.90],[-.31,-.94],[-.48,-.69],[-.64,-.83],[-.39,-.69],[-.57,-1.01],[-.27,-.86]];
var bl12core = [[-.46,-.86],[-.49,-.84],[-.44,-.83],[-.51,-.87],[-.43,-.89],[-.48,-.91],[-.53,-.84],[-.41,-.85],[-.47,-.79],[-.55,-.90],[-.39,-.88],[-.50,-.95],[-.45,-.75],[-.57,-.80],[-.37,-.82],[-.52,-.77],[-.42,-.97],[-.59,-.86],[-.35,-.91],[-.48,-1.00],[-.61,-.91],[-.40,-.72],[-.33,-.86],[-.54,-.70],[-.44,-1.04],[-.63,-.76],[-.30,-.79],[-.58,-.99],[-.36,-1.01],[-.51,-.66],
  [-.47,-.83],[-.45,-.90],[-.52,-.82],[-.42,-.80],[-.49,-.93],[-.56,-.87],[-.38,-.92],[-.46,-.71],[-.60,-.81],[-.34,-.74],[-.53,-1.02],[-.40,-.98],[-.65,-.88],[-.29,-.87],[-.57,-.68],[-.43,-.64],[-.62,-1.02],[-.31,-.98],[-.68,-.78],[-.26,-.76],[-.50,-1.08],[-.38,-.66],[-.66,-.95],[-.27,-1.01],[-.59,-.61],[-.47,-.60],[-.70,-.90],[-.34,-1.07],[-.24,-.88],[-.64,-.70]];
var bl12inner = [[-.47,-.87],[-.45,-.84],[-.49,-.86],[-.46,-.81],[-.50,-.90],[-.43,-.88],[-.48,-.93],[-.52,-.83],[-.42,-.82],[-.45,-.96],[-.54,-.88],[-.40,-.91],[-.49,-.78],[-.56,-.93],[-.38,-.86],[-.51,-.99],[-.44,-.76],[-.58,-.84],[-.36,-.95],[-.47,-1.02],[-.60,-.78],[-.39,-.78],[-.55,-1.00],[-.33,-.89],[-.52,-.72],
  [-.62,-.94],[-.41,-1.05],[-.34,-.80],[-.58,-.73],[-.45,-.68],[-.48,-.85],[-.44,-.91],[-.51,-.80],[-.41,-.86],[-.53,-.95],[-.46,-.75],[-.57,-.89],[-.37,-.93],[-.50,-1.05],[-.59,-.80],[-.38,-.72],[-.63,-.86],[-.32,-.96],[-.54,-.67],[-.43,-1.09],[-.65,-.98],[-.30,-.84],[-.60,-.69],[-.49,-1.11],[-.35,-.68]];
var bl12ring = [[-.67,-.85],[-.27,-.86],[-.47,-.64],[-.46,-1.06],[-.63,-.69],[-.31,-1.01],[-.64,-1.01],[-.31,-.69],[-.55,-.64],[-.38,-1.05],[-.68,-.77],[-.26,-.95],[-.39,-.64],[-.56,-1.07],[-.66,-.71],[-.26,-.75],[-.43,-.62],[-.52,-1.09],[-.70,-.85],[-.24,-.84],[-.60,-1.03],[-.34,-.67],[-.65,-.66],[-.29,-1.04],[-.51,-.61],
  [-.41,-1.09],[-.71,-.93],[-.23,-.78],[-.35,-1.05],[-.61,-.66],[-.48,-1.09],[-.67,-1.00],[-.29,-.65],[-.40,-.62],[-.69,-.71],[-.24,-.99],[-.57,-.62],[-.36,-1.10],[-.72,-.80],[-.22,-.91],[-.63,-1.06],[-.45,-.59],[-.26,-.70],[-.51,-1.11],[-.67,-.64],[-.24,-.73],[-.73,-.87],[-.32,-1.08],[-.53,-.59],[-.59,-1.09]];

Chart.defaults.font.family = '"Liberation Sans", Arial, sans-serif';

// box, inward ticks, dotted minor grid, title and the boxed legend
var axesBox = {
    id: 'axesBox',
    beforeDatasetsDraw: function(chart) {
        var ctx = chart.ctx, a = chart.chartArea, xs = chart.scales.x, ys = chart.scales.y;
        ctx.save();
        ctx.strokeStyle = '#c4c4c4';
        ctx.lineWidth = 1;
        ctx.setLineDash([1, 3]);
        minorGrid.forEach(function(v) {
            var px = Math.round(xs.getPixelForValue(v)) + 0.5;
            var py = Math.round(ys.getPixelForValue(v)) + 0.5;
            ctx.beginPath();
            ctx.moveTo(px, a.top); ctx.lineTo(px, a.bottom);
            ctx.moveTo(a.left, py); ctx.lineTo(a.right, py);
            ctx.stroke();
        });
        ctx.restore();
    },
    afterDatasetsDraw: function(chart) {
        var ctx = chart.ctx, a = chart.chartArea, xs = chart.scales.x, ys = chart.scales.y;
        ctx.save();
        ctx.strokeStyle = '#262626';
        ctx.lineWidth = 1.5;
        ctx.beginPath();
        xs.ticks.forEach(function(t) {
            var px = xs.getPixelForValue(t.value);
            ctx.moveTo(px, a.bottom); ctx.lineTo(px, a.bottom - 4);
            ctx.moveTo(px, a.top); ctx.lineTo(px, a.top + 4);
        });
        ys.ticks.forEach(function(t) {
            var py = ys.getPixelForValue(t.value);
            ctx.moveTo(a.left, py); ctx.lineTo(a.left + 4, py);
            ctx.moveTo(a.right, py); ctx.lineTo(a.right - 4, py);
        });
        ctx.stroke();
        ctx.strokeRect(a.left, a.top, a.right - a.left, a.bottom - a.top);

        // title over the axes
        ctx.fillStyle = '#000';
        ctx.font = 'bold 20px "Liberation Sans", Arial, sans-serif';
        ctx.textAlign = 'center';
        ctx.textBaseline = 'middle';
        ctx.fillText(plotTitle, (a.left + a.right) / 2 - 3, 16);

        // legend
        var bw = 150, bh = 28;
        var bx = Math.round(a.right - 6.5 - bw) + 0.5, by = Math.round(a.top + 7) + 0.5;
        ctx.fillStyle = '#fff';
        ctx.fillRect(bx, by, bw, bh);
        ctx.lineWidth = 1;
        ctx.strokeRect(bx, by, bw, bh);
        ctx.fillStyle = '#000';
        ctx.beginPath();
        ctx.arc(bx + 32, by + bh / 2, 1.5, 0, Math.PI * 2);
        ctx.fill();
        ctx.font = '15.5px "Liberation Sans", Arial, sans-serif';
        ctx.textAlign = 'left';
        ctx.fillText(chart.data.datasets[0].label, bx + 59, by + bh / 2 + 1);
        ctx.restore();
    }
};

function makeChart(id, clusters, label, padLeft, yWidth, padRight) {
    var pts = [];
    clusters.forEach(function(c) {
        c.forEach(function(p) { pts.push({ x: p[0], y: p[1] }); });
    });
    var axis = function(title, isY) {
        var s = {
            type: 'linear',
            min: -2,
            max: 2,
            position: isY ? 'left' : 'bottom',
            ticks: {
                stepSize: 0.5,
                autoSkip: false,
                maxRotation: 0,
                padding: isY ? 7 : 9,
                color: '#262626',
                font: { size: 17 },
                callback: function(v, i) { return tickLabels[i]; }
            },
            grid: { color: '#dcdcdc', lineWidth: 1.5, drawTicks: false },
            border: { display: false },
            title: {
                display: true,
                text: title,
                color: '#262626',
                font: { size: 20 },
                padding: isY ? { top: 6, bottom: 0 } : { top: 0, bottom: 5 }
            }
        };
        s.afterFit = isY ? function(sc) { sc.width = yWidth; } : function(sc) { sc.height = 61; };
        return s;
    };
    return new Chart(document.getElementById(id), {
        type: 'scatter',
        data: {
            datasets: [{
                label: label,
                data: pts,
                backgroundColor: '#000',
                borderWidth: 0,
                pointRadius: 1.7
            }]
        },
        options: {
            responsive: false,
            animation: false,
            devicePixelRatio: 1,
            layout: { padding: { left: padLeft, right: padRight, top: 31, bottom: 0 } },
            scales: {
                x: axis('In-Phase', false),
                y: axis('Quadrature', true)
            },
            plugins: {
                legend: { display: false },
                tooltip: { enabled: false },
                title: { display: false }
            }
        },
        plugins: [axesBox]
    });
}

makeChart('plotA', [tl30, tl30core, tl30inner, tl30ring, tr30, tr30core, tr30inner, tr30ring,
    bl30, bl30core, bl30inner, bl30ring, br30, br30core, br30inner, br30ring], 'IBO = 30 dB', 0, 69, 28);
makeChart('plotB', [tl12, tl12core, tl12inner, tl12ring, tr12, tr12core, tr12inner, tr12ring,
    bl12, bl12core, bl12inner, bl12ring, br12, br12core, br12inner, br12ring], 'IBO = 12 dB', 19, 72, 6);
</script>
</body>
</html>
